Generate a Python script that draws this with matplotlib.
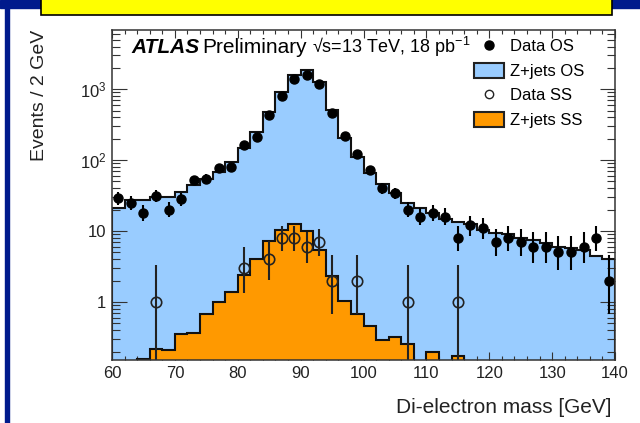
import numpy as np
import matplotlib.pyplot as plt
from matplotlib.patches import Rectangle, Patch
from matplotlib.lines import Line2D
from matplotlib.ticker import LogLocator, FixedLocator, MultipleLocator, NullFormatter

plt.rcParams['font.family'] = ['Liberation Sans', 'DejaVu Sans']

# 2 GeV bins between 60 and 140 GeV
edges = np.arange(60, 142, 2)

zjets_os = [21, 27, 27, 30, 30, 36, 45, 55, 68, 95,
            146, 250, 478, 915, 1570, 1850, 1260, 505, 202, 111,
            65, 46, 34, 25, 21, 17.7, 15, 13.5, 12.5, 10.3,
            9.3, 9.0, 8.1, 7.5, 6.7, 6.0, 5.7, 5.4, 4.4, 4.0]

zjets_ss = [0, 0, 0.158, 0.22, 0.21, 0.35, 0.36, 0.68, 1.0, 1.38,
            2.4, 4.0, 7.2, 10.3, 12.5, 10.1, 5.4, 2.3, 1.03, 0.68,
            0.46, 0.29, 0.325, 0.256, 0, 0.2, 0, 0.175, 0, 0,
            0, 0, 0, 0, 0, 0, 0, 0, 0, 0]

data_os = [29, 25, 18, 31, 20, 28, 52, 55, 78, 79,
           163, 209, 430, 815, 1380, 1610, 1175, 460, 218, 124,
           72, 40, 34, 20, 16, 18, 16, 8, 12, 11,
           7, 8, 7, 6, 6, 5, 5, 6, 8, 2]

ss_mass = [67, 81, 85, 87, 89, 91, 93, 95, 99, 107, 115]
data_ss = [1, 3, 4, 8, 8, 6, 7, 2, 2, 1, 1]

x_ticks = [60, 70, 80, 90, 100, 110, 120, 130, 140]
y_ticks = [1, 10, 100, 1000]
y_ticklabels = ['1', '10', r'$\mathregular{10^{2}}$', r'$\mathregular{10^{3}}$']

blue = '#99ccff'
orange = '#ff9900'
navy = '#001a8c'


def poisson_err(n):
    n = np.asarray(n, dtype=float)
    lo = np.sqrt(np.clip(n - 0.25, 0, None))
    hi = np.sqrt(n + 0.75) + 1
    return np.vstack([lo, hi])


W, H = 640, 423
fig = plt.figure(figsize=(W / 100, H / 100), dpi=100)


def px(x0, y0, x1, y1):
    return [x0 / W, 1 - y1 / H, (x1 - x0) / W, (y1 - y0) / H]


# slide decoration: navy strip, left bar and yellow title box
fig.patches.append(Rectangle((0, 1 - 8 / H), 1, 8 / H, transform=fig.transFigure,
                             color=navy, zorder=0))
fig.patches.append(Rectangle((5 / W, 0), 4 / W, 1, transform=fig.transFigure,
                             color=navy, zorder=0))
fig.patches.append(Rectangle((41 / W, 1 - 15 / H), 571 / W, 20 / H, transform=fig.transFigure,
                             facecolor='#ffff00', edgecolor='black', lw=1.2, zorder=1))

ax = fig.add_axes(px(112, 30, 615, 360))
ax.set_yscale('log')

floor = 1e-4
ax.stairs(zjets_os, edges, baseline=floor, fill=True, color=blue, zorder=1)
ax.stairs(zjets_os, edges, baseline=floor, color='#111111', lw=1.5, zorder=2)
ss = np.where(np.array(zjets_ss) > 0, zjets_ss, floor)
ax.stairs(ss, edges, baseline=floor, fill=True, color=orange, zorder=3)
ax.stairs(ss, edges, baseline=floor, color='#111111', lw=1.5, zorder=4)

centers = 0.5 * (edges[:-1] + edges[1:])
ax.errorbar(centers, data_os, yerr=poisson_err(data_os), fmt='o', color='black',
            ms=6.5, elinewidth=1.5, capsize=0, zorder=6)
ax.errorbar(ss_mass, data_ss, yerr=poisson_err(data_ss), fmt='o', color='#222222',
            mfc='none', mec='#222222', mew=1.2, ms=7.5, elinewidth=1.5, capsize=0, zorder=5)

ax.set_xlim(60, 140)
ax.set_ylim(0.152, 6840)

ax.xaxis.set_major_locator(FixedLocator(x_ticks))
ax.xaxis.set_minor_locator(MultipleLocator(2))
ax.yaxis.set_major_locator(FixedLocator(y_ticks))
ax.set_yticklabels(y_ticklabels)
ax.yaxis.set_minor_locator(LogLocator(base=10, subs=np.arange(2, 10)))
ax.yaxis.set_minor_formatter(NullFormatter())

ax.tick_params(which='both', direction='in', top=True, right=True,
               colors='#333333', labelcolor='#222222', width=0.8, labelsize=12)
ax.tick_params(axis='x', which='major', length=6, pad=4)
ax.tick_params(axis='x', which='minor', length=3)
ax.tick_params(axis='y', which='major', length=11, pad=4)
ax.tick_params(axis='y', which='minor', length=5.5)
for s in ax.spines.values():
    s.set_linewidth(1.1)
    s.set_color('#333333')
    s.set_zorder(10)

ax.text(0.038, 0.948, 'ATLAS', transform=ax.transAxes, fontsize=15,
        fontweight='bold', fontstyle='italic', va='center')
ax.text(0.179, 0.948, 'Preliminary', transform=ax.transAxes, fontsize=15, va='center')
ax.text(0.398, 0.948, r'√s=13 TeV, 18 pb$^{\mathregular{-1}}$', transform=ax.transAxes,
        fontsize=13, va='center')

handles = [Line2D([], [], ls='none', marker='o', color='black', ms=6.5),
           Patch(facecolor=blue, edgecolor='#222222', lw=1.5),
           Line2D([], [], ls='none', marker='o', mfc='none', mec='#222222', mew=1.0, ms=6),
           Patch(facecolor=orange, edgecolor='#222222', lw=1.5)]
labels = ['Data OS', 'Z+jets OS', 'Data SS', 'Z+jets SS']
ax.legend(handles, labels, loc='upper left', bbox_to_anchor=(0.72, 0.975),
          frameon=False, fontsize=12, borderpad=0, borderaxespad=0,
          handlelength=1.8, handleheight=1.0, handletextpad=0.36, labelspacing=0.5)

fig.text(40 / W, 1 - 30 / H, 'Events / 2 GeV', rotation=90, ha='center', va='top',
         fontsize=14, color='#222222')
fig.text(612 / W, 1 - 407 / H, 'Di-electron mass [GeV]', ha='right', va='center',
         fontsize=15, color='#222222')

fig.savefig('out.png', dpi=100)
